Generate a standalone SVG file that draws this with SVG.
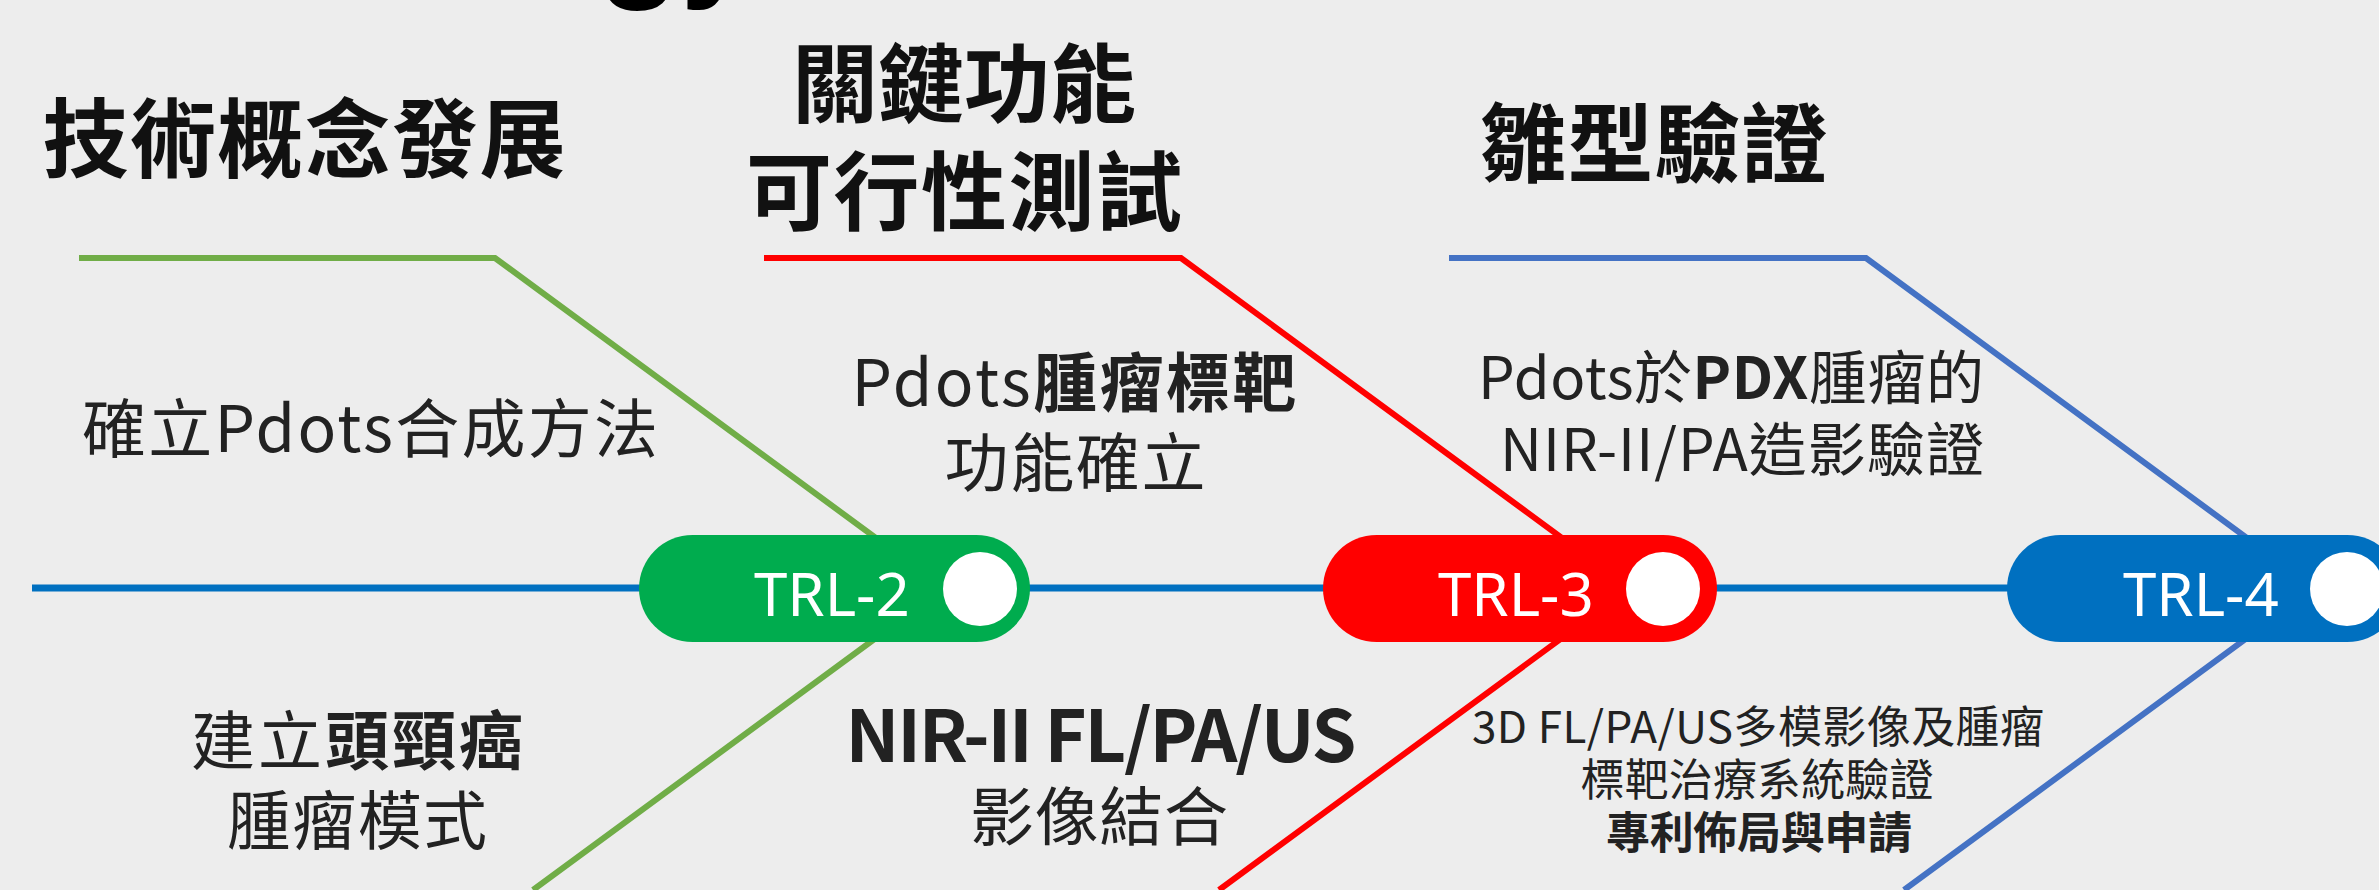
<svg xmlns="http://www.w3.org/2000/svg" width="2379" height="890" viewBox="0 0 2379 890">
<defs>
<style>
.bg{fill:#EDEDED}
.main{stroke:#0070C0;stroke-width:7;fill:none}
.br{fill:none;stroke-width:6;stroke-linejoin:miter}
.g{stroke:#70AD47}.r{stroke:#FF0000}.b{stroke:#4472C4}
.title{font-family:"Noto Sans CJK TC","Noto Sans",sans-serif;font-weight:700;font-size:86px;fill:#111}
.lab{font-family:"Noto Sans CJK TC","Noto Sans",sans-serif;font-weight:400;fill:#222}
.bold{font-weight:700}
.trl{font-family:"Noto Sans","Open Sans",sans-serif;font-size:60px;fill:#fff}
.dot{fill:#fff}
</style>
</defs>
<rect class="bg" x="0" y="0" width="2379" height="890"/>
<text x="598" y="-18" font-family="Liberation Sans, sans-serif" font-weight="700" font-size="135" fill="#000">gy</text>

<g id="connectors">
<line class="main" x1="32" y1="588" x2="2379" y2="588"/>
<polyline class="br g" points="79,258 495,258 944,588 533,890"/>
<polyline class="br r" points="764,258 1181,258 1630,588 1219,890"/>
<polyline class="br b" points="1449,258 1866,258 2315,588 1904,890"/>
</g>

<g id="titles">
<text class="title" x="304" y="171" text-anchor="middle" textLength="523">技術概念發展</text>
<text class="title" x="964" y="116" text-anchor="middle" textLength="344">關鍵功能</text>
<text class="title" x="964" y="224" text-anchor="middle" textLength="436">可行性測試</text>
<text class="title" x="1654" y="176" text-anchor="middle" textLength="347">雛型驗證</text>
</g>

<g id="labels">
<text class="lab" x="370" y="452" font-size="64" text-anchor="middle" textLength="576">確立Pdots合成方法</text>
<text class="lab" x="1074" y="406" font-size="64" text-anchor="middle" textLength="445">Pdots<tspan class="bold">腫瘤標靶</tspan></text>
<text class="lab" x="1075" y="486" font-size="64" text-anchor="middle" textLength="261">功能確立</text>
<text class="lab" x="1731" y="399" font-size="58" text-anchor="middle" textLength="506">Pdots於<tspan class="bold">PDX</tspan>腫瘤的</text>
<text class="lab" x="1742" y="471" font-size="58" text-anchor="middle" textLength="484">NIR-II/PA造影驗證</text>
<text class="lab" x="357" y="764" font-size="64" text-anchor="middle" textLength="332">建立<tspan class="bold">頭頸癌</tspan></text>
<text class="lab" x="357" y="844" font-size="64" text-anchor="middle" textLength="260">腫瘤模式</text>
<text class="lab bold" x="1101" y="762" font-size="72" text-anchor="middle" textLength="511">NIR-II FL/PA/US</text>
<text class="lab" x="1099" y="840" font-size="64" text-anchor="middle" textLength="258">影像結合</text>
<text class="lab" x="1758" y="743" font-size="44" text-anchor="middle" textLength="572">3D FL/PA/US多模影像及腫瘤</text>
<text class="lab" x="1757" y="796" font-size="44" text-anchor="middle" textLength="353">標靶治療系統驗證</text>
<text class="lab bold" x="1759" y="849" font-size="44" text-anchor="middle" textLength="306">專利佈局與申請</text>
</g>

<g id="trl2">
<rect x="639" y="535" width="391" height="107" rx="53.5" fill="#00AC4E"/>
<text class="trl" x="754" y="616">TRL-2</text>
<circle class="dot" cx="980" cy="589" r="37"/>
</g>
<g id="trl3">
<rect x="1323" y="535" width="394" height="107" rx="53.5" fill="#FF0000"/>
<text class="trl" x="1438" y="616">TRL-3</text>
<circle class="dot" cx="1663" cy="589" r="37"/>
</g>
<g id="trl4">
<rect x="2007" y="535" width="394" height="107" rx="53.5" fill="#0070C0"/>
<text class="trl" x="2123" y="616">TRL-4</text>
<circle class="dot" cx="2347" cy="589" r="37"/>
</g>
</svg>
